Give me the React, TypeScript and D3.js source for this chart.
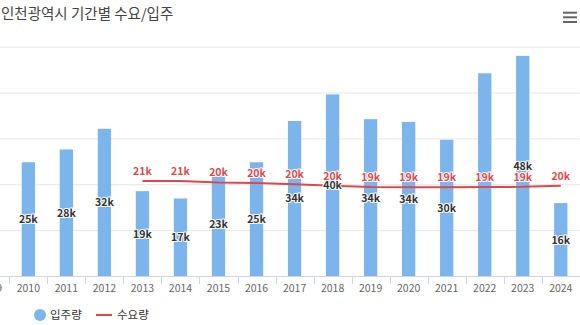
import React from "react";
import * as d3 from "d3";

const title = "인천광역시 기간별 수요/입주";
const years = ["2009", "2010", "2011", "2012", "2013", "2014", "2015", "2016", "2017", "2018", "2019", "2020", "2021", "2022", "2023", "2024"];
// 입주량 (thousands); 2009 is cut off at the left edge of the reference
const supply: (number | null)[] = [null, 24.8, 27.6, 32.1, 18.5, 16.9, 22.5, 24.8, 33.8, 39.6, 34.2, 33.6, 29.7, 44.2, 48.0, 15.9];
// 수요량 (thousands), starts at 2013
const demand: (number | null)[] = [null, null, null, null, 20.7, 20.7, 20.4, 20.3, 20.0, 19.7, 19.4, 19.35, 19.35, 19.4, 19.45, 19.7];
const yTicks = [0, 10, 20, 30, 40, 50];
const hiddenBarLabels = ["2022"];
const legendItems = ["입주량", "수요량"];

const W = 580;
const H = 325;
const plotLeft = -28.7;
const plotRight = 579.8;
const plotTop = 46.7;
const plotBottom = 276;
const barColor = "#7cb5ec";
const lineColor = "#e0474c";
const font = "'Noto Sans CJK KR', 'Noto Sans', sans-serif";

export default function App() {
  const x = d3.scaleBand<string>().domain(years).range([plotLeft, plotRight]).padding(0);
  const y = d3.scaleLinear().domain([0, 50]).range([plotBottom, plotTop]);
  const barW = 13.3;
  const cx = (c: string) => (x(c) as number) + x.bandwidth() / 2;

  const linePts = years
    .map((c, i) => ({ c, v: demand[i] }))
    .filter((d) => d.v != null) as { c: string; v: number }[];
  const line = d3
    .line<{ c: string; v: number }>()
    .x((d) => cx(d.c))
    .y((d) => y(d.v));

  const fmt = (v: number) => `${Math.round(v)}k`;

  return (
    <svg width={W} height={H} style={{ position: "absolute", left: 0, top: 0, background: "#fff" }} fontFamily={font}>
      <rect x={0} y={0} width={W} height={H} fill="#fff" />
      <text x={1} y={19} fontSize={14.5} fill="#444">{title}</text>
      {/* menu icon */}
      {[12.7, 17.3, 22].map((yy, i) => (
        <line key={i} x1={563} x2={577} y1={yy} y2={yy} stroke="#666" strokeWidth={2} />
      ))}
      {/* grid */}
      {yTicks.slice(1).map((t) => (
        <line key={t} x1={0} x2={plotRight} y1={y(t) + 0.5} y2={y(t) + 0.5} stroke="#e6e6e6" strokeWidth={1} />
      ))}
      {/* bars */}
      {years.map((c, i) =>
        supply[i] == null ? null : (
          <rect key={c} x={cx(c) - barW / 2} y={y(supply[i] as number)} width={barW} height={plotBottom - y(supply[i] as number)} fill={barColor} />
        )
      )}
      {/* axis */}
      <line x1={0} x2={W} y1={plotBottom + 0.5} y2={plotBottom + 0.5} stroke="#ccd6eb" />
      {years.map((c) => (
        <line key={c} x1={Math.round(x(c) as number) + 0.5} x2={Math.round(x(c) as number) + 0.5} y1={plotBottom} y2={plotBottom + 8} stroke="#ccd6eb" />
      ))}
      {years.map((c) => (
        <text key={c} x={cx(c)} y={292} textAnchor="middle" fontSize={10.5} fill="#666">{c}</text>
      ))}
      {/* line */}
      <path d={line(linePts) || ""} fill="none" stroke={lineColor} strokeWidth={2} />
      {/* bar labels */}
      {years.map((c, i) =>
        supply[i] == null || hiddenBarLabels.includes(c) ? null : (
          <text key={c} x={cx(c)} y={(y(supply[i] as number) + plotBottom) / 2 + 4} textAnchor="middle" fontSize={10.5} fontWeight="bold" fill="#333" stroke="#fff" strokeWidth={2} paintOrder="stroke" strokeLinejoin="round">
            {fmt(supply[i] as number)}
          </text>
        )
      )}
      {/* line labels */}
      {linePts.map((d) => (
        <text key={d.c} x={cx(d.c)} y={y(d.v) - 6} textAnchor="middle" fontSize={10.5} fontWeight="bold" fill={lineColor} stroke="#fff" strokeWidth={2} paintOrder="stroke" strokeLinejoin="round">
          {fmt(d.v)}
        </text>
      ))}
      {/* legend */}
      <circle cx={40} cy={315} r={6} fill={barColor} />
      <text x={50} y={319} fontSize={11.5} fill="#333">{legendItems[0]}</text>
      <line x1={96} x2={112} y1={315} y2={315} stroke={lineColor} strokeWidth={2} />
      <text x={117} y={319} fontSize={11.5} fill="#333">{legendItems[1]}</text>
    </svg>
  );
}
